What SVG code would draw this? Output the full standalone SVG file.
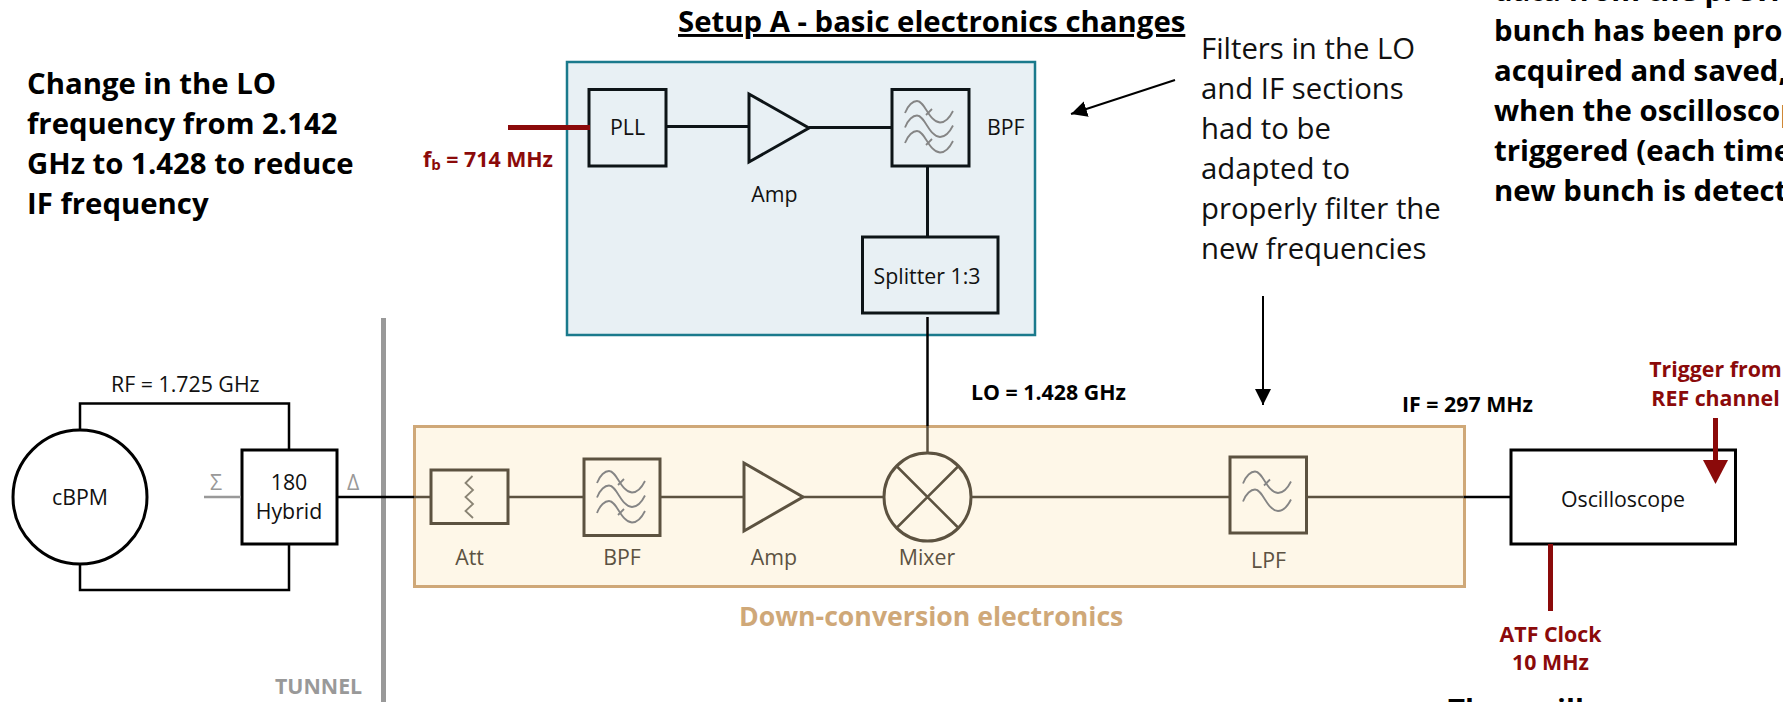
<svg xmlns="http://www.w3.org/2000/svg" width="1783" height="702" viewBox="0 0 1783 702">
<style>
text{font-family:"Open Sans","Noto Sans","Liberation Sans",sans-serif;fill:#111}
.b{font-weight:700;font-size:29.33px;fill:#000}
.d{font-weight:700;font-size:26.67px;fill:#cfa878}
.n{font-size:29.33px;fill:#111}
.s{font-size:21.33px}
.sb{font-size:21.33px;font-weight:700;fill:#000}
.r{font-size:21.33px;font-weight:700;fill:#8b0a0a}
.m{text-anchor:middle}
.bn{font-size:21.33px;fill:#5c5242;text-anchor:middle}
.k{fill:none;stroke:#000;stroke-width:2.5}
.kb{fill:#fff;stroke:#000;stroke-width:3}
.bk{fill:none;stroke:#0d1417;stroke-width:3}
.br{fill:none;stroke:#5c5240;stroke-width:2.5}
.brb{fill:none;stroke:#5c5240;stroke-width:3}
.w{fill:none;stroke:#858585;stroke-width:1.8}
.red{stroke:#8b0a0a;stroke-width:5;fill:none}
</style>
<defs>
<g id="wave"><path class="w" d="M0,0C3,-8 8,-12 12,-12C20,-12 24,9 35,9.5C40,9.5 45,4 48,-2"/></g>
<g id="wavex"><use href="#wave"/><path class="w" d="M21,2L27,-4"/></g>
<marker id="ah" markerUnits="userSpaceOnUse" markerWidth="16" markerHeight="16" refX="16" refY="8" orient="auto"><path d="M0,0L16,8L0,16z" fill="#000"/></marker>
</defs>

<text id="note-lo" class="b"><tspan x="27" y="94">Change in the LO</tspan><tspan x="27" y="134">frequency from 2.142</tspan><tspan x="27" y="174">GHz to 1.428 to reduce</tspan><tspan x="27" y="214">IF frequency</tspan></text>
<text id="title" class="b" x="678" y="32" text-decoration="underline">Setup A - basic electronics changes</text>
<text id="note-filters" class="n"><tspan x="1201" y="59">Filters in the LO</tspan><tspan x="1201" y="99">and IF sections</tspan><tspan x="1201" y="139">had to be</tspan><tspan x="1201" y="179">adapted to</tspan><tspan x="1201" y="219">properly filter the</tspan><tspan x="1201" y="259">new frequencies</tspan></text>
<text id="note-right" class="b"><tspan x="1494" y="1">data from the previ</tspan><tspan x="1494" y="41">bunch has been pro</tspan><tspan x="1494" y="81">acquired and saved,</tspan><tspan x="1494" y="121">when the oscilloscop</tspan><tspan x="1494" y="161">triggered (each time</tspan><tspan x="1494" y="201">new bunch is detect</tspan></text>
<text id="note-bottom" class="b" x="1448" y="720">The oscill</text>

<g id="setup-a-panel"><rect x="567" y="62" width="468" height="273" fill="#e8f0f4" stroke="#1a7a8c" stroke-width="2.5"/></g>
<g id="down-panel"><rect x="414.500" y="426.500" width="1050" height="160" fill="#fef7e8" stroke="#cfa878" stroke-width="3"/></g>
<rect id="tunnel-wall" x="381" y="318" width="5" height="384" fill="#999"/>

<g id="cbpm"><circle cx="80" cy="497" r="67" fill="#fff" stroke="#000" stroke-width="3"/><text class="s m" x="80" y="505">cBPM</text></g>
<g id="hybrid"><rect class="kb" x="242" y="450" width="95" height="94"/><text class="s m" x="289" y="490">180</text><text class="s m" x="289" y="519">Hybrid</text></g>
<text id="sigma" class="s" x="210" y="490" style="fill:#999">Σ</text>
<text id="delta" class="s" x="347" y="490" style="fill:#999">Δ</text>
<text id="rf" class="s" x="111" y="392">RF = 1.725 GHz</text>
<text id="tunnel" class="sb" x="275" y="694" style="fill:#999">TUNNEL</text>

<g id="pll"><rect class="bk" x="589" y="89.500" width="77" height="76.500"/><text class="s m" x="627.500" y="135">PLL</text></g>
<g id="amp-top"><path class="bk" d="M749,94V162L809,128z"/><text class="s m" x="774.500" y="201.500">Amp</text></g>
<g id="bpf-top"><rect class="bk" x="892" y="89.500" width="77" height="76.500"/><use href="#wavex" x="905" y="113"/><use href="#wave" x="905" y="127.500"/><use href="#wavex" x="905" y="143"/><text class="s" x="987" y="135">BPF</text></g>
<g id="splitter"><rect class="bk" x="862.500" y="237" width="135.500" height="76"/><text class="s m" x="927" y="284">Splitter 1:3</text></g>

<g id="att"><rect class="brb" x="431" y="470" width="77" height="53.500"/><path fill="none" stroke="#8a8474" stroke-width="1.800" d="M472.500,476L465.500,483L473,490L465.500,497L473,504L465.500,511L473,518"/><text class="bn" x="469.500" y="565">Att</text></g>
<g id="bpf-low"><rect class="brb" x="584" y="459" width="76" height="76.500"/><use href="#wavex" x="597" y="483"/><use href="#wave" x="597" y="497.500"/><use href="#wavex" x="597" y="513"/><text class="bn" x="622" y="565">BPF</text></g>
<g id="amp-low"><path class="brb" d="M744,463V531L803,497z"/><text class="bn" x="774" y="565">Amp</text></g>
<g id="mixer"><ellipse class="brb" cx="927.500" cy="497" rx="43.500" ry="44"/><path class="br" d="M896.500,466L958.500,528M958.500,466L896.500,528"/><text class="bn" x="927" y="565">Mixer</text></g>
<g id="lpf"><rect class="brb" x="1230" y="457" width="76.500" height="76"/><use href="#wavex" x="1243" y="483.500"/><use href="#wave" x="1243" y="501.500"/><text class="bn" x="1268.500" y="567.500">LPF</text></g>
<g id="oscilloscope"><rect class="kb" x="1511" y="450" width="224.500" height="94"/><text class="s m" x="1623" y="507">Oscilloscope</text></g>

<g id="connectors">
<path class="k" d="M80,430V403.500H289V449"/>
<path class="k" d="M289,545V590H80V564"/>
<path stroke="#999" stroke-width="2.500" fill="none" d="M204,497H241"/>
<path class="k" d="M338,497H414"/>
<path class="br" d="M414,497H431M508,497H584M660,497H744M803,497H884M971,497H1230M1307,497H1464M927.500,426V453"/>
<path class="k" d="M1464,497H1511"/>
<path class="k" d="M927.500,317V426"/>
<path class="bk" d="M667,126.500H749M809,127.500H892M927.500,166V237"/>
<path class="red" d="M508,127.500H590"/>
<path class="red" d="M1550.500,544V611"/>
<path class="red" d="M1715.500,418V462"/>
<path d="M1703,460H1728L1715.500,484z" fill="#8b0a0a"/>
<path fill="none" stroke="#000" stroke-width="2" marker-end="url(#ah)" d="M1175,80L1071,114"/>
<path fill="none" stroke="#000" stroke-width="2" marker-end="url(#ah)" d="M1263,296V405"/>
</g>

<text id="fb" class="r" x="423" y="167">f<tspan font-size="15" dy="3">b</tspan><tspan dy="-3"> = 714 MHz</tspan></text>
<text id="lo" class="sb" x="971" y="400">LO = 1.428 GHz</text>
<text id="if" class="sb" x="1402" y="412">IF = 297 MHz</text>
<text id="down-label" class="d" x="739" y="626">Down-conversion electronics</text>
<text id="atf" class="r m"><tspan x="1550.500" y="642">ATF Clock</tspan><tspan x="1550.500" y="670">10 MHz</tspan></text>
<text id="trigger" class="r m"><tspan x="1715.500" y="377">Trigger from</tspan><tspan x="1715.500" y="406">REF channel</tspan></text>
</svg>
